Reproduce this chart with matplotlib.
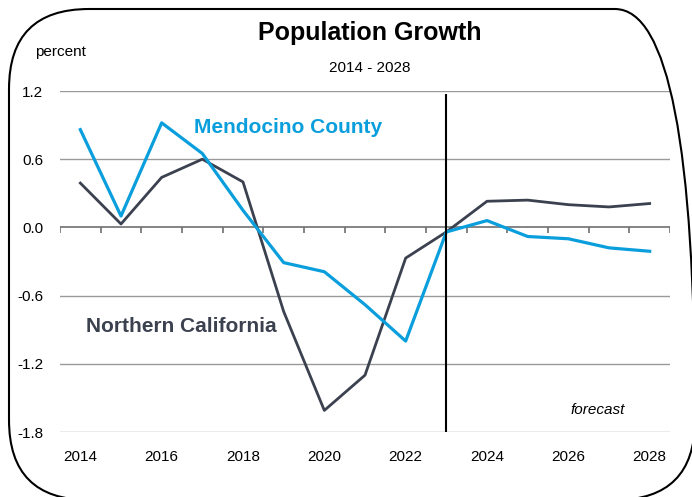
import numpy as np
import matplotlib
matplotlib.use("Agg")
import matplotlib.pyplot as plt
from matplotlib.patches import FancyBboxPatch
from matplotlib.transforms import IdentityTransform

plt.rcParams['font.family'] = ['Liberation Sans', 'DejaVu Sans']

# data
years = np.arange(2014, 2029)
mendocino = [0.86, 0.10, 0.92, 0.65, 0.15, -0.31, -0.39, -0.68, -1.00, -0.04,
             0.06, -0.08, -0.10, -0.18, -0.21]
north_ca = [0.39, 0.03, 0.44, 0.60, 0.40, -0.74, -1.61, -1.30, -0.27, -0.04,
            0.23, 0.24, 0.20, 0.18, 0.21]
yticks = [-1.8, -1.2, -0.6, 0.0, 0.6, 1.2]
xlabels = [2014, 2016, 2018, 2020, 2022, 2024, 2026, 2028]
forecast_start = 2023

blue = '#0a9fdc'
dark = '#3b414f'

fig = plt.figure(figsize=(6.92, 4.97), dpi=100)
ax = fig.add_axes([60 / 692, 1 - 432 / 497, 610 / 692, (432 - 91) / 497])

ax.set_xlim(2013.5, 2028.5)
ax.set_ylim(-1.8, 1.2)
for s in ax.spines.values():
    s.set_visible(False)

# gridlines, zero line with category tick marks
for y in yticks:
    if y != 0:
        ax.axhline(y, color='#9a9a9a', lw=1.0, zorder=1)
ax.axhline(0, color='#707070', lw=1.2, zorder=1)
ax.vlines(np.arange(2013.5, 2029), 0, -0.05, color='#707070', lw=1.2, zorder=1)

ax.plot(years, north_ca, color=dark, lw=2.0, zorder=3)
ax.plot(years, mendocino, color=blue, lw=2.3, zorder=4)

ax.vlines(forecast_start, -1.8, 1.17, color='black', lw=1.5, zorder=5)

ax.set_yticks(yticks)
ax.set_yticklabels([f'{v:.1f}' for v in yticks])
ax.set_xticks(xlabels)
ax.tick_params(axis='both', length=0, labelsize=11)
ax.tick_params(axis='y', pad=12)
ax.tick_params(axis='x', pad=13)

ax.text(2016.8, 0.88, 'Mendocino County', color=blue, fontsize=15,
        fontweight='bold', ha='left', va='center')
ax.text(2014.15, -0.87, 'Northern California', color=dark, fontsize=15,
        fontweight='bold', ha='left', va='center')
ax.text(2027.4, -1.61, 'forecast', fontsize=11, style='italic',
        ha='right', va='center')

fig.text(370 / 692, 1 - 33 / 497, 'Population Growth', fontsize=18,
         fontweight='bold', ha='center', va='center')
fig.text(370 / 692, 1 - 68 / 497, '2014 - 2028', fontsize=11,
         ha='center', va='center')
fig.text(35 / 692, 1 - 52 / 497, 'percent', fontsize=11,
         ha='left', va='center')

# rounded frame round the whole chart (runs off the right and bottom edges)
frame = FancyBboxPatch((9, -3), 686, 491,
                       boxstyle='round,pad=0,rounding_size=80',
                       transform=IdentityTransform(), fill=False,
                       edgecolor='black', lw=1.5, clip_on=False)
fig.patches.append(frame)

fig.savefig('out.png', dpi=100)
